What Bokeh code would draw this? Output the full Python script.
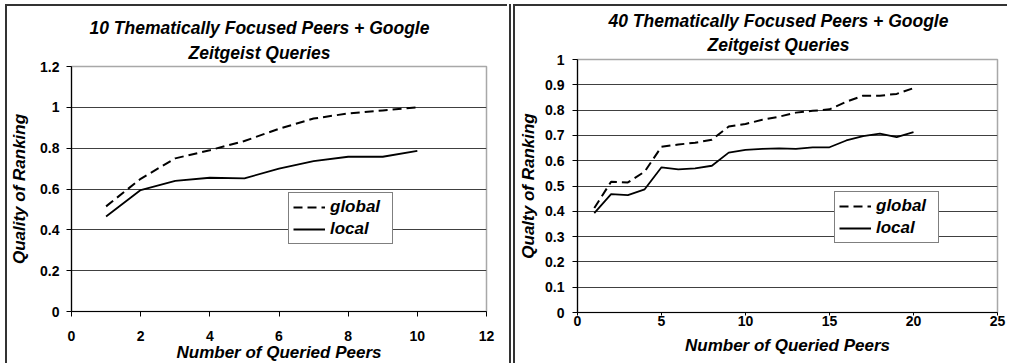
from bokeh.plotting import figure
from bokeh.layouts import row, column
from bokeh.models import FixedTicker, Range1d, Title, Spacer
from bokeh.embed import file_html
from bokeh.resources import INLINE

# ---------------- data ----------------
left_title = ["10 Thematically Focused Peers + Google", "Zeitgeist Queries"]
right_title = ["40 Thematically Focused Peers + Google", "Zeitgeist Queries"]
left_ylabel = "Quality of Ranking"
right_ylabel = "Qualty of Ranking"
xlabel = "Number of Queried Peers"

left_x = [1, 2, 3, 4, 5, 6, 7, 8, 9, 10]
left_global = [0.515, 0.65, 0.75, 0.79, 0.835, 0.895, 0.945, 0.97, 0.985, 1.0]
left_local = [0.465, 0.595, 0.64, 0.655, 0.652, 0.70, 0.737, 0.758, 0.758, 0.787]

right_x = list(range(1, 21))
right_global = [0.413, 0.517, 0.514, 0.557, 0.655, 0.664, 0.671, 0.683, 0.735, 0.745,
                0.762, 0.774, 0.79, 0.797, 0.803, 0.833, 0.857, 0.857, 0.864, 0.887]
right_local = [0.393, 0.468, 0.464, 0.487, 0.574, 0.566, 0.57, 0.58, 0.632, 0.643,
               0.647, 0.649, 0.647, 0.653, 0.653, 0.68, 0.697, 0.707, 0.693, 0.713]

left_xticks = [0, 2, 4, 6, 8, 10, 12]
left_yticks = [0, 0.2, 0.4, 0.6, 0.8, 1.0, 1.2]
left_ytick_labels = ["0", "0.2", "0.4", "0.6", "0.8", "1", "1.2"]
right_xticks = [0, 5, 10, 15, 20, 25]
right_yticks = [0, 0.1, 0.2, 0.3, 0.4, 0.5, 0.6, 0.7, 0.8, 0.9, 1.0]
right_ytick_labels = ["0", "0.1", "0.2", "0.3", "0.4", "0.5", "0.6", "0.7", "0.8", "0.9", "1"]

series_names = ["global", "local"]

FONT = "Liberation Sans"
BORDER = "2px solid #333333"


def make_panel(width, height, borders, xr, yr, xticks, yticks, ylabels,
               title_lines, title_offsets, title_standoffs, title_valign, ylabel, xs, g, l,
               legend_loc, x_tick_out, x_standoff, x_label_standoff,
               y_standoff, y_label_standoff):
    p = figure(width=width, height=height, output_backend="svg", toolbar_location=None,
               x_range=Range1d(*xr), y_range=Range1d(*yr), title=None,
               min_border_left=borders[0], min_border_right=borders[1],
               min_border_top=borders[2], min_border_bottom=borders[3],
               background_fill_color="white", border_fill_color="white")
    p.styles = {"border-left": BORDER, "border-top": BORDER}
    p.outline_line_color = "#a8a8a8"
    p.outline_line_width = 1.5

    # second title line first: it sits next to the plot area
    p.add_layout(Title(text=title_lines[1], align="left", offset=title_offsets[1],
                       standoff=title_standoffs[1], vertical_align=title_valign,
                       text_font=FONT, text_font_style="bold italic",
                       text_font_size="17.5px", text_color="black"), "above")
    p.add_layout(Title(text=title_lines[0], align="left", offset=title_offsets[0],
                       standoff=title_standoffs[0], vertical_align=title_valign,
                       text_font=FONT, text_font_style="bold italic",
                       text_font_size="17.5px", text_color="black"), "above")

    p.xgrid.visible = False
    p.ygrid.ticker = FixedTicker(ticks=yticks[1:-1])
    p.ygrid.grid_line_color = "#404040"
    p.ygrid.grid_line_width = 1

    p.xaxis.ticker = FixedTicker(ticks=xticks)
    p.yaxis.ticker = FixedTicker(ticks=yticks)
    p.yaxis.major_label_overrides = {t: s for t, s in zip(yticks, ylabels)}
    p.xaxis.major_label_overrides = {t: str(t) for t in xticks}

    for ax in (p.xaxis[0], p.yaxis[0]):
        ax.axis_line_color = "black"
        ax.axis_line_width = 1.2
        ax.major_tick_line_color = "black"
        ax.major_tick_in = 0
        ax.minor_tick_line_color = None
        ax.major_label_text_font = FONT
        ax.major_label_text_font_style = "bold"
        ax.major_label_text_font_size = "14px"
        ax.major_label_text_color = "black"
        ax.axis_label_text_font = FONT
        ax.axis_label_text_font_style = "bold italic"
        ax.axis_label_text_font_size = "17px"
        ax.axis_label_text_color = "black"
    p.yaxis.major_tick_out = 5
    p.xaxis.major_tick_out = x_tick_out
    p.yaxis.major_label_standoff = y_standoff
    p.xaxis.major_label_standoff = x_standoff
    p.xaxis.axis_label = xlabel
    p.yaxis.axis_label = ylabel
    p.xaxis.axis_label_standoff = x_label_standoff
    p.yaxis.axis_label_standoff = y_label_standoff

    p.line(xs, g, line_color="black", line_width=2, line_dash="9 5",
           legend_label=series_names[0])
    p.line(xs, l, line_color="black", line_width=1.8, legend_label=series_names[1])

    lg = p.legend[0]
    lg.location = legend_loc
    lg.border_line_color = "black"
    lg.border_line_width = 1
    lg.background_fill_color = "white"
    lg.background_fill_alpha = 1
    lg.label_text_font = FONT
    lg.label_text_font_style = "bold italic"
    lg.label_text_font_size = "17px"
    lg.label_text_color = "black"
    lg.glyph_width = 32
    lg.glyph_height = 20
    lg.label_height = 20
    lg.label_width = 58
    lg.label_standoff = 5
    lg.padding = 4
    lg.spacing = 2
    lg.margin = 0
    return p


p1 = make_panel(502, 366, (63, 23, 60, 61), (0, 12), (0, 1.2), left_xticks, left_yticks,
                left_ytick_labels, left_title, (18, 117), (0, 7), "bottom", left_ylabel,
                left_x, left_global, left_local, (217, 67), 5, 14, -1, 7, 8)
p2 = make_panel(494, 366, (62, 12, 53, 60), (0, 25), (0, 1.0), right_xticks, right_yticks,
                right_ytick_labels, right_title, (31, 130), (-5, 7.5), "middle", right_ylabel,
                right_x, right_global, right_local, (257, 69), 3, 0, 7, 8, 4)

divider = Spacer(width=2, height=366, styles={"background-color": "#333333"})

# each plot in its own column so that the row does not align their plot areas
left_box = column(Spacer(height=4), p1, spacing=0)
right_box = column(Spacer(height=4), p2, spacing=0)
divider_box = column(Spacer(height=4), divider, spacing=0)

layout = row(Spacer(width=5), left_box, Spacer(width=2), divider_box, Spacer(width=2),
             right_box, spacing=0)

open("out.html", "w").write(file_html(layout, INLINE))
